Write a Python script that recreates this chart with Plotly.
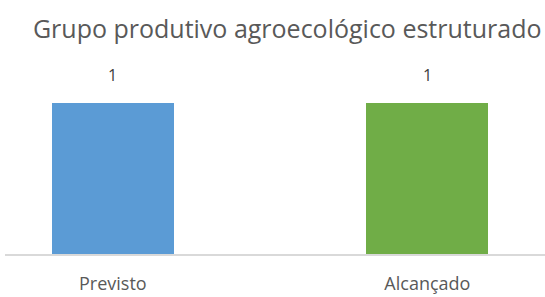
import plotly.graph_objects as go

categories = ["Previsto", "Alcançado"]
values = [1, 1]
colors = ["#5B9BD5", "#70AD47"]
title_text = "Grupo produtivo agroecológico estruturado"

fig = go.Figure()
fig.add_trace(go.Bar(
    x=categories, y=values, marker=dict(color=colors, line=dict(width=0)),
    width=0.388, hoverinfo="skip"
))
for c, v in zip(categories, values):
    fig.add_annotation(x=c, y=v, text=str(v), showarrow=False, yshift=28,
                       font=dict(size=16, color="#404040"))

fig.update_layout(
    width=545, height=297,
    margin=dict(l=5, r=0, t=60, b=43, autoexpand=False),
    paper_bgcolor="white", plot_bgcolor="white",
    font=dict(family="Open Sans, sans-serif", color="#595959"),
    title=dict(text=title_text, x=0.527, xanchor="center", y=0.9, yanchor="middle",
               font=dict(size=25, color="#595959")),
    showlegend=False,
    bargap=0,
)
fig.update_xaxes(type="category", range=[-0.343, 1.374], showline=True, linecolor="#D9D9D9",
                 linewidth=2, ticks="", tickfont=dict(size=18, color="#595959"), ticklabelstandoff=12)
fig.update_yaxes(range=[0, 1.285], visible=False, showgrid=False, zeroline=False)

fig.write_html("out.html", post_script="document.body.style.margin='0';",
               config={"displayModeBar": False})
